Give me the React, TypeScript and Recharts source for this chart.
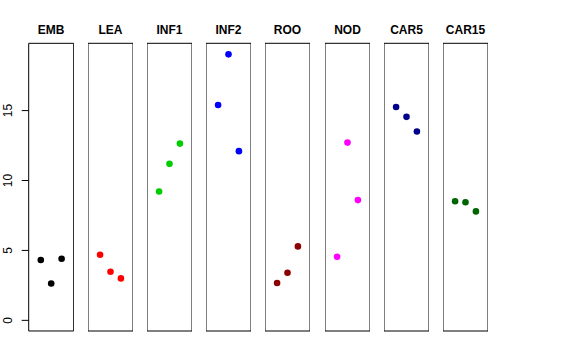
import React from 'react';
import { ScatterChart, Scatter, XAxis, YAxis, ReferenceArea } from 'recharts';

const groups = ['EMB', 'LEA', 'INF1', 'INF2', 'ROO', 'NOD', 'CAR5', 'CAR15'];
const positions = [1, 2, 3];

const emb = [4.31, 2.64, 4.41];
const lea = [4.69, 3.48, 3.0];
const inf1 = [9.21, 11.19, 12.64];
const inf2 = [15.4, 19.02, 12.1];
const roo = [2.67, 3.4, 5.29];
const nod = [4.55, 12.71, 8.6];
const car5 = [15.26, 14.55, 13.5];
const car15 = [8.52, 8.45, 7.79];

const seriesValues = [emb, lea, inf1, inf2, roo, nod, car5, car15];
const colors = ['#000000', '#FF0000', '#00CD00', '#0000FF', '#8B0000', '#FF00FF', '#00008B', '#006400'];
const yTicks = [0, 5, 10, 15];

const X_DOMAIN: [number, number] = [-0.16, 4.16];
const Y_DOMAIN: [number, number] = [-0.76, 19.81];

const PANEL_LEFT = 28.7;
const PANEL_STEP = 59.19;
const PANEL_W = 45;
const AXIS_W = 28.7;

const Dot = (props: any) => {
  const { cx, cy, fill } = props;
  return <circle cx={cx} cy={cy} r={3.3} fill={fill} />;
};

const RotatedTick = (props: any) => {
  const { y, payload } = props;
  return (
    <text
      x={12.3}
      y={y}
      transform={`rotate(-90, 12.3, ${y})`}
      textAnchor="middle"
      fontSize={12}
      fill="#000"
    >
      {payload.value}
    </text>
  );
};

function Panel({ index }: { index: number }) {
  const first = index === 0;
  const data = positions.map((p, j) => ({ x: p, y: seriesValues[index][j] }));
  const left = first ? 0 : PANEL_LEFT + index * PANEL_STEP;
  const width = PANEL_W + (first ? AXIS_W : 0);
  return (
    <div style={{ position: 'absolute', left, top: 0 }}>
      <ScatterChart width={width} height={360} margin={{ top: 43.3, bottom: 29, left: 0, right: 0 }}>
        <XAxis type="number" dataKey="x" domain={X_DOMAIN} hide />
        <YAxis
          type="number"
          dataKey="y"
          domain={Y_DOMAIN}
          ticks={yTicks}
          hide={!first}
          width={AXIS_W}
          axisLine={false}
          tickLine={{ stroke: '#000' }}
          tickSize={7}
          tick={<RotatedTick />}
          allowDataOverflow
        />
        <ReferenceArea
          x1={X_DOMAIN[0]}
          x2={X_DOMAIN[1]}
          y1={Y_DOMAIN[0]}
          y2={Y_DOMAIN[1]}
          fill="none"
          fillOpacity={0}
          stroke="#000"
          strokeWidth={1}
          ifOverflow="visible"
          label={{
            value: groups[index],
            position: 'top',
            offset: 9,
            fontSize: 12,
            fontWeight: 'bold',
            fill: '#000',
          }}
        />
        <Scatter data={data} fill={colors[index]} shape={<Dot />} isAnimationActive={false} />
      </ScatterChart>
    </div>
  );
}

export default function App() {
  return (
    <div
      style={{
        position: 'absolute',
        left: 0,
        top: 0,
        width: 576,
        height: 360,
        background: '#fff',
        fontFamily: '"Liberation Sans", Arial, Helvetica, sans-serif',
      }}
    >
      {groups.map((g, i) => (
        <Panel key={g} index={i} />
      ))}
    </div>
  );
}
